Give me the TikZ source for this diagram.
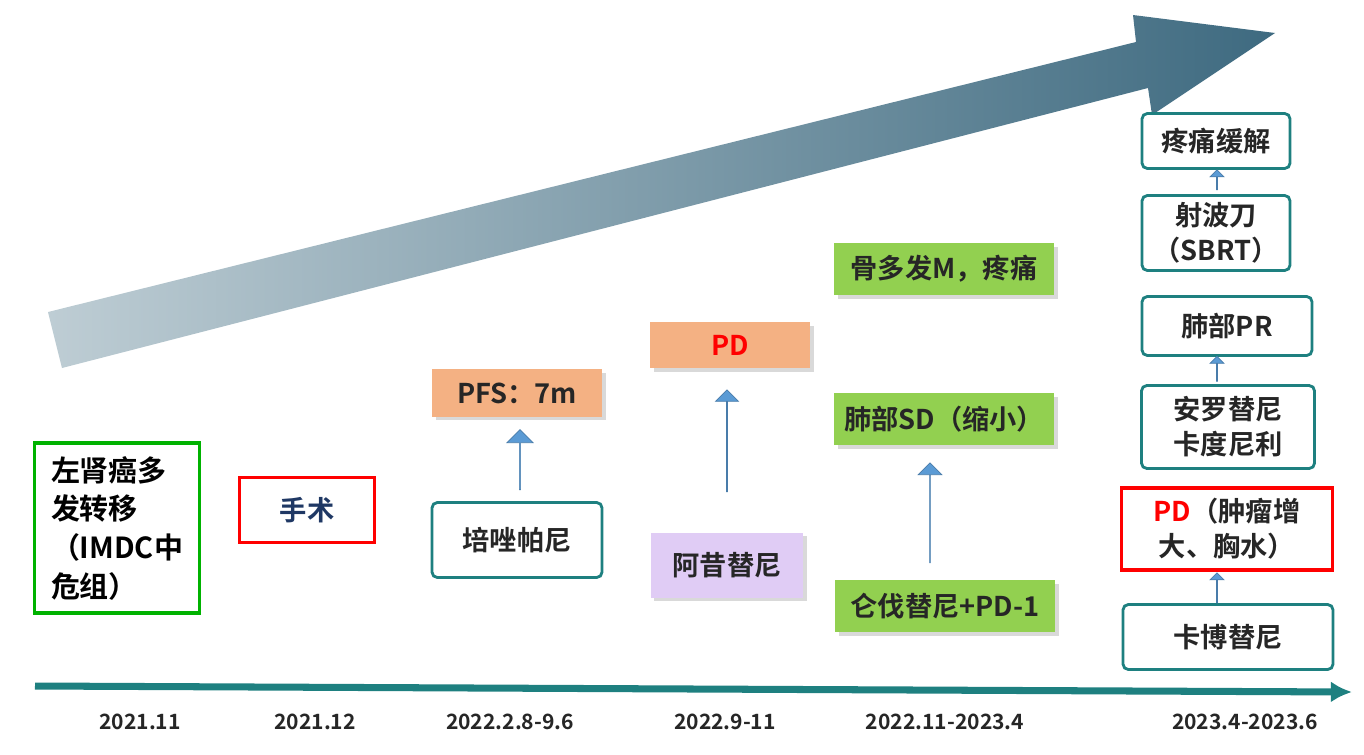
\documentclass[tikz,border=0pt]{standalone}
\usepackage{fontspec}
\setmainfont{Noto Sans CJK SC}[BoldFont={Noto Sans CJK SC Bold}]
\usetikzlibrary{shapes.arrows,shadows,positioning,arrows.meta}
\definecolor{myteal}{RGB}{30,128,128}
\definecolor{myorange}{RGB}{244,177,131}
\definecolor{mygreen}{RGB}{146,208,80}
\definecolor{mylilac}{RGB}{224,204,245}
\definecolor{myblue}{RGB}{91,155,213}
\definecolor{mytext}{RGB}{38,38,38}
\definecolor{mynavy}{RGB}{31,56,100}
\definecolor{shadeleft}{RGB}{190,205,212}
\definecolor{shademid}{RGB}{214,225,230}
\definecolor{shaderight}{RGB}{62,106,128}
\tikzset{
  txt/.style={font=\fontsize{15.5}{20}\selectfont\bfseries, text=mytext, align=center, inner sep=2pt},
  tealbox/.style={txt, draw=myteal, line width=1.6pt, rounded corners=3pt},
  redbox/.style={txt, draw=red, line width=2pt},
  fillbox/.style={txt, drop shadow={opacity=0.3, shadow xshift=2pt, shadow yshift=-2pt}},
  uparrow/.style={shape=single arrow, rotate=90, fill=myblue, draw=myblue!80!black, inner sep=0pt},
  datelabel/.style={font=\fontsize{12}{14}\selectfont\bfseries, text=mytext},
}
\begin{document}
\begin{tikzpicture}[x=0.02cm, y=-0.02cm]
\useasboundingbox (0,0) rectangle (1364,754);

% big rising arrow
\shade[shading angle=90+14, left color=shadeleft, middle color=shademid, right color=shaderight]
  (48,312) -- (1136,42) -- (1133,15) -- (1275,33) -- (1152,115) -- (1148,88) -- (62,368) -- cycle;

% time axis
\coordinate (t0) at (35,686);
\coordinate (t1) at (1352,692);
\draw[myteal, line width=4pt, -{Latex[length=12pt,width=12pt]}] (t0) -- (t1);

\node[datelabel] (d1) at (140,722) {2021.11};
\node[datelabel] (d2) at (315,722) {2021.12};
\node[datelabel] (d3) at (510,722) {2022.2.8-9.6};
\node[datelabel] (d4) at (725,722) {2022.9-11};
\node[datelabel] (d5) at (945,722) {2022.11-2023.4};
\node[datelabel] (d6) at (1245,722) {2023.4-2023.6};

% 2021.11
\node[txt, draw=green!70!black, line width=2pt, minimum width=3.3cm, minimum height=3.4cm, align=left, font=\fontsize{16.5}{22}\selectfont\bfseries, text=black] (diag) at (117,528) {左肾癌多\\发转移\\（IMDC中\\危组）};

% 2021.12
\node[redbox, minimum width=2.7cm, minimum height=1.3cm, text=mynavy] (op) at (307,510) {手术};

% 2022.2.8-9.6
\node[tealbox, minimum width=3.4cm, minimum height=1.5cm] (pzp) at (517,540) {培唑帕尼};
\node[fillbox, fill=myorange, minimum width=3.4cm, minimum height=0.95cm] (pfs) at (517,393) {PFS：7m};
\node[uparrow, minimum height=1.2cm, minimum width=0.52cm, single arrow head extend=0.14cm] (a1) at (520,460) {};

% 2022.9-11
\node[fillbox, fill=mylilac, minimum width=3.05cm, minimum height=1.3cm] (axt) at (727,565) {阿昔替尼};
\node[fillbox, fill=myorange, minimum width=3.2cm, minimum height=0.92cm, text=red] (pd1) at (730,345) {PD};
\node[uparrow, minimum height=2.04cm, minimum width=0.46cm, single arrow head extend=0.16cm] (a2) at (727,441) {};

% 2022.11-2023.4
\node[fillbox, fill=mygreen, minimum width=4.4cm, minimum height=1.04cm] (bone) at (944,269) {骨多发M，疼痛};
\node[fillbox, fill=mygreen, minimum width=4.4cm, minimum height=1.04cm] (lsd) at (944,419) {肺部SD（缩小）};
\node[fillbox, fill=mygreen, minimum width=4.4cm, minimum height=1.04cm] (lvt) at (945,606) {仑伐替尼+PD-1};
\node[uparrow, minimum height=2.0cm, minimum width=0.46cm, single arrow head extend=0.23cm] (a3) at (930,513) {};

% 2023.4-2023.6
\node[tealbox, minimum width=2.96cm, minimum height=1.1cm] (pain) at (1216,141) {疼痛缓解};
\node[tealbox, minimum width=2.96cm, minimum height=1.5cm] (sbrt) at (1216,233) {射波刀\\（SBRT）};
\node[tealbox, minimum width=3.4cm, minimum height=1.18cm] (lpr) at (1227,326) {肺部PR};
\node[tealbox, minimum width=3.46cm, minimum height=1.66cm] (alt) at (1228,427) {安罗替尼\\卡度尼利};
\node[redbox, minimum width=4.22cm, minimum height=1.64cm] (pd2) at (1227,529) {\textcolor{red}{PD}（肿瘤增\\大、胸水）};
\node[tealbox, minimum width=4.2cm, minimum height=1.3cm] (cbt) at (1228,637) {卡博替尼};
\node[uparrow, minimum height=0.4cm, minimum width=0.28cm, single arrow head extend=0.1cm] (s1) at (1217,180) {};
\node[uparrow, minimum height=0.5cm, minimum width=0.28cm, single arrow head extend=0.1cm] (s2) at (1217,369) {};
\node[uparrow, minimum height=0.6cm, minimum width=0.28cm, single arrow head extend=0.1cm] (s3) at (1217,588) {};
\end{tikzpicture}
\end{document}
